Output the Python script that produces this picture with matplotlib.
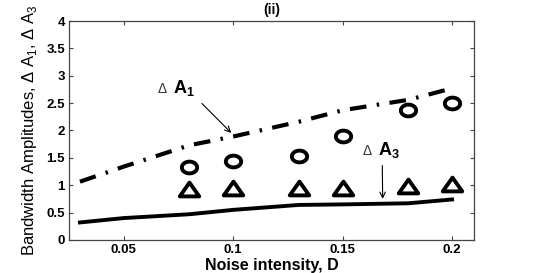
import matplotlib
matplotlib.use("Agg")
import matplotlib.pyplot as plt
import numpy as np
from matplotlib.path import Path

plt.rcParams['font.family'] = ['Liberation Sans', 'DejaVu Sans']
plt.rcParams['mathtext.fontset'] = 'custom'
plt.rcParams['mathtext.rm'] = 'Liberation Sans'
plt.rcParams['mathtext.bf'] = 'Liberation Sans:bold'

# Theory curve dA1 (dash-dot)
d_theory1 = [0.03, 0.05, 0.08, 0.10, 0.13, 0.15, 0.18, 0.20]
a1_theory = [1.065, 1.34, 1.73, 1.89, 2.16, 2.37, 2.56, 2.77]
# Theory curve dA3 (solid)
d_theory3 = [0.03, 0.05, 0.08, 0.10, 0.13, 0.15, 0.18, 0.20]
a3_theory = [0.32, 0.40, 0.47, 0.55, 0.64, 0.65, 0.67, 0.74]
# Simulation points
d_sim = [0.08, 0.10, 0.13, 0.15, 0.18, 0.20]
a1_sim = [1.34, 1.45, 1.53, 1.90, 2.37, 2.51]
a3_sim = [0.93, 0.95, 0.95, 0.95, 0.98, 1.02]

xticks = [0.05, 0.1, 0.15, 0.2]
xticklabels = ["0.05", "0.1", "0.15", "0.2"]
yticks = [0, 0.5, 1, 1.5, 2, 2.5, 3, 3.5, 4]
yticklabels = ["0", "0.5", "1", "1.5", "2", "2.5", "3", "3.5", "4"]

# wide (horizontally stretched) marker shapes
t = np.linspace(0, 2 * np.pi, 60)
ellipse = Path(np.column_stack([1.3 * np.cos(t), np.sin(t)]), closed=True)
wide_tri = Path([(0, 0.85), (-1.2, -0.85), (1.2, -0.85), (0, 0.85)], closed=True)

fig = plt.figure(figsize=(5.45, 2.73), dpi=100)
ax = fig.add_axes([0.1266, 0.121, 0.7431, 0.802])

ax.plot(d_theory1, a1_theory, color='black', lw=3, linestyle=(0, (4, 2.5, 0.6, 2.5)))
ax.plot(d_theory3, a3_theory, color='black', lw=2.8, linestyle='-')
ax.plot(d_sim, a1_sim, linestyle='none', marker=ellipse, markersize=11,
        markerfacecolor='white', markeredgecolor='black', markeredgewidth=2.8)
ax.plot(d_sim, a3_sim, linestyle='none', marker=wide_tri, markersize=14,
        markerfacecolor='white', markeredgecolor='black', markeredgewidth=2.8)

ax.set_xlim(0.025, 0.21)
ax.set_ylim(0, 4)
ax.set_xticks(xticks)
ax.set_xticklabels(xticklabels, fontweight='bold', fontsize=9.5)
ax.set_yticks(yticks)
ax.set_yticklabels(yticklabels, fontweight='bold', fontsize=9.5)
ax.tick_params(direction='in', top=True, right=True, length=3, width=0.8, colors='#444444',
               labelcolor='black', pad=3)
for s in ax.spines.values():
    s.set_color('#444444')
    s.set_linewidth(0.9)

ax.set_xlabel("Noise intensity, D", fontweight='bold', fontsize=11.5, labelpad=1)
ax.set_ylabel(r"Bandwidth Amplitudes, $\Delta$ A$_1$, $\Delta$ A$_3$",
              fontsize=12, labelpad=5)
ax.set_title("(ii)", fontweight='bold', fontsize=10, pad=5)

ax.annotate("", xy=(0.1, 1.92), xytext=(0.0848, 2.53),
            arrowprops=dict(arrowstyle='->', color='black', lw=0.8))
ax.text(0.065, 2.75, r"$\Delta$", fontsize=10, color='#333333', va='center')
ax.text(0.0725, 2.78, r"A$_\mathbf{1}$", fontsize=13, fontweight='bold', va='center')

ax.annotate("", xy=(0.1683, 0.70), xytext=(0.1681, 1.41),
            arrowprops=dict(arrowstyle='->', color='black', lw=0.8))
ax.text(0.1588, 1.62, r"$\Delta$", fontsize=10, color='#333333', va='center')
ax.text(0.166, 1.65, r"A$_\mathbf{3}$", fontsize=13, fontweight='bold', va='center')

fig.savefig("out.png", dpi=100)
